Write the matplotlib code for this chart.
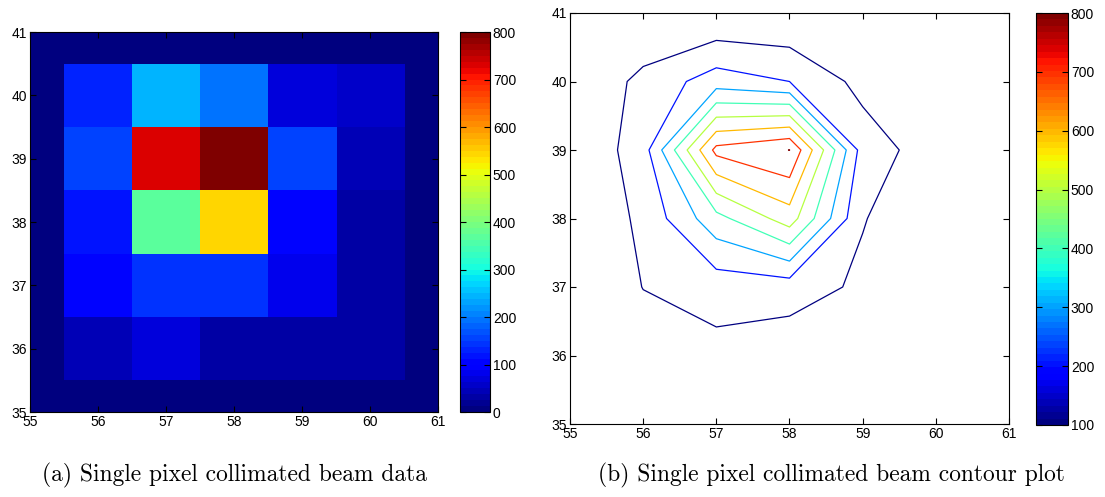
import numpy as np
import matplotlib
matplotlib.use("Agg")
import matplotlib.pyplot as plt
from matplotlib.cm import ScalarMappable
from matplotlib.colors import Normalize

# pixel grid (zero padded border at 55/61 and 35/41)
x_pos = [55, 56, 57, 58, 59, 60, 61]
y_pos = [35, 36, 37, 38, 39, 40, 41]

# counts, rows from y=35 (bottom) to y=41 (top), cols x=55..61
row_35 = [0, 0, 0, 0, 0, 0, 0]
row_36 = [0, 50, 70, 35, 30, 28, 0]
row_37 = [0, 102, 142, 148, 82, 28, 0]
row_38 = [0, 122, 366, 550, 105, 28, 0]
row_39 = [0, 154, 730, 801, 155, 45, 0]
row_40 = [0, 128, 250, 200, 68, 55, 0]
row_41 = [0, 0, 0, 0, 0, 0, 0]

contour_levels = [100, 200, 300, 400, 500, 600, 700, 800]
cbar_a_ticks = [0, 100, 200, 300, 400, 500, 600, 700, 800]
cbar_b_ticks = [100, 200, 300, 400, 500, 600, 700, 800]

caption_a = "(a) Single pixel collimated beam data"
caption_b = "(b) Single pixel collimated beam contour plot"

plt.rcParams["font.family"] = ["Liberation Sans", "DejaVu Sans"]
plt.rcParams["font.size"] = 10

Z = np.array([row_35, row_36, row_37, row_38, row_39, row_40, row_41], dtype=float)
X, Y = np.meshgrid(x_pos, y_pos)
cmap = plt.get_cmap("jet", 64)

W, H = 1105, 497
fig = plt.figure(figsize=(W / 100, H / 100), dpi=100)


def box(x0, y0, x1, y1):
    # pixel box (top-left origin) -> figure fraction rect
    return [x0 / W, 1 - y1 / H, (x1 - x0) / W, (y1 - y0) / H]


def style_axes(ax):
    ax.tick_params(direction="in", top=True, right=True, length=4, width=0.8,
                   pad=2, labelsize=10)
    for s in ax.spines.values():
        s.set_linewidth(0.8)


def style_cbar(cb):
    cb.ax.tick_params(direction="in", left=True, right=True, length=4,
                      width=0.8, pad=2, labelsize=10)
    cb.outline.set_linewidth(0.8)


# (a) heat map
ax1 = fig.add_axes(box(30, 32, 438, 412))
im = ax1.imshow(Z, origin="lower", cmap=cmap, aspect="auto",
                extent=[x_pos[0] - 0.5, x_pos[-1] + 0.5, y_pos[0] - 0.5, y_pos[-1] + 0.5],
                vmin=0, vmax=Z.max(), interpolation="nearest")
ax1.set_xlim(55, 61)
ax1.set_ylim(35, 41)
ax1.set_xticks(x_pos)
ax1.set_yticks(y_pos)
style_axes(ax1)
cax1 = fig.add_axes(box(460, 32, 490, 412))
cb1 = fig.colorbar(im, cax=cax1, ticks=cbar_a_ticks)
style_cbar(cb1)

# (b) contour plot
ax2 = fig.add_axes(box(570, 13, 1009, 424))
norm = Normalize(vmin=100, vmax=800)
ax2.contour(X, Y, Z, levels=contour_levels, cmap=cmap, norm=norm,
            linewidths=0.9)
ax2.set_xlim(55, 61)
ax2.set_ylim(35, 41)
ax2.set_xticks(x_pos)
ax2.set_yticks(y_pos)
style_axes(ax2)
cax2 = fig.add_axes(box(1036, 13, 1068, 425))
cb2 = fig.colorbar(ScalarMappable(norm=norm, cmap=cmap), cax=cax2, ticks=cbar_b_ticks)
style_cbar(cb2)

fig.text(235 / W, 1 - 475 / H, caption_a, family="cmr10", fontsize=16.9,
         ha="center", va="center")
fig.text(831 / W, 1 - 475 / H, caption_b, family="cmr10", fontsize=16.9,
         ha="center", va="center")

fig.savefig("out.png", dpi=100)
